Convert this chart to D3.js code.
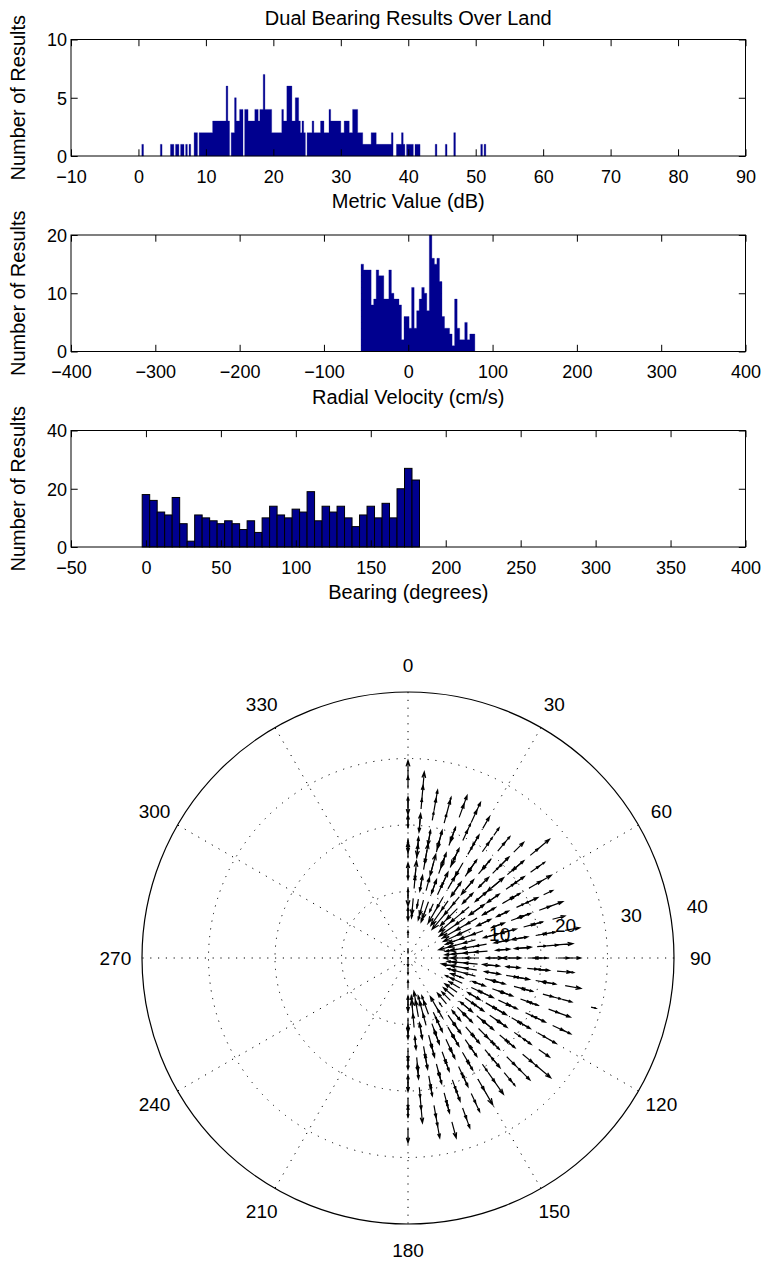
<!DOCTYPE html>
<html>
<head>
<meta charset="utf-8">
<script src="https://cdn.jsdelivr.net/npm/d3@7"></script>
<style>
  html, body { margin: 0; padding: 0; background: #fff; }
  svg { display: block; }
  text { font-family: "Liberation Sans", Arial, Helvetica, sans-serif; fill: #000; }
</style>
</head>
<body>
<svg id="chart" width="762" height="1262"></svg>
<script>
// ---------------- data ----------------
const chartTitle = "Dual Bearing Results Over Land";

// Metric value histogram (0.25 dB bins starting at 0 dB)
const metricBinStart = 0;
const metricBinWidth = 0.25;
const metricCounts = [
  0,0,1,0,0,0,0,0,0,0,  0,0,0,1,0,0,0,0,0,1,
  1,0,1,1,0,1,1,0,1,0,  1,0,0,2,2,0,2,2,2,2,
  2,2,2,2,3,3,3,3,3,3,  3,3,6,3,0,2,2,5,3,3,
  4,4,0,4,4,3,3,3,3,4,  4,3,4,4,7,4,4,4,4,2,
  2,2,2,2,2,4,3,3,6,6,  6,3,3,5,5,3,2,3,2,0,
  2,2,2,3,2,2,2,2,3,3,  2,2,2,4,3,3,3,3,3,3,
  2,2,3,3,3,2,2,4,4,4,  2,2,2,1,1,1,1,1,2,2,
  2,1,1,1,1,1,1,1,1,1,  2,0,0,1,1,1,2,1,0,1,
  1,1,1,0,1,1,1,0,0,0,  0,0,0,0,0,0,1,0,0,0,
  0,0,1,0,0,0,0,2,0,0,  0,0,0,0,0,0,0,0,0,0,
  0,0,0,1,0,1,0,0
];
const metricXTicks = [-10, 0, 10, 20, 30, 40, 50, 60, 70, 80, 90];
const metricYTicks = [0, 5, 10];

// Radial velocity histogram (3 cm/s bins starting at -56 cm/s)
const velBinStart = -56;
const velBinWidth = 3;
const velCounts = [
  15,14,14,14,8, 9,14,13,13,9, 9,14,10,9,9, 8,2,6,6,4,
  11,4,7,9,11, 10,7,20,16,15, 16,12,6,4,4, 3,1,9,4,2,
  2,5,2,3,3
];
const velXTicks = [-400, -300, -200, -100, 0, 100, 200, 300, 400];
const velYTicks = [0, 10, 20];

// Bearing histogram (5 degree bins centred on 0..180)
const bearingCenters = [0,5,10,15,20,25,30,35,40,45,50,55,60,65,70,75,80,85,90,
  95,100,105,110,115,120,125,130,135,140,145,150,155,160,165,170,175,180];
const bearingCounts = [18,16,12,11,17,8,2,11,10,9,8,9,8,6,9,5,10,14,11,10,13,12,
  19,9,14,12,14,10,7,11,14,10,15,10,20,27,23];
const bearingBinWidth = 5;
const bearingXTicks = [-50, 0, 50, 100, 150, 200, 250, 300, 350, 400];
const bearingYTicks = [0, 20, 40];

// Polar vector map: per bearing, range cells (km) and radial velocities (cm/s)
const arrowBearings = bearingCenters;
const arrowRanges = [
  [1.5,3.0,6.0,7.5,9.0,10.5,12.0,13.5,15.0,16.5,18.0,19.5,21.0,22.5,24.0,25.5,27.0],
  [7.5,9.0,10.5,12.0,13.5,15.0,16.5,18.0,19.5,21.0,22.5,24.0,25.5],
  [7.5,9.0,10.5,12.0,13.5,15.0,16.5,18.0,19.5,21.0,22.5,24.0],
  [7.5,9.0,10.5,13.5,15.0,16.5,18.0,19.5,21.0,22.5,24.0],
  [7.5,9.0,10.5,12.0,13.5,15.0,16.5,18.0,19.5,21.0,22.5,24.0],
  [9.0,10.5,12.0,13.5,15.0,16.5,18.0,19.5,21.0,22.5,24.0],
  [9.0,10.5,12.0,13.5,16.5,18.0,19.5,21.0,22.5],
  [9.0,10.5,12.0,13.5,15.0,16.5,18.0,19.5,21.0,22.5],
  [9.0,10.5,12.0,13.5,15.0,16.5,18.0,19.5,21.0,22.5],
  [9.0,10.5,12.0,13.5,15.0,16.5,18.0,19.5,21.0,22.5],
  [9.0,10.5,12.0,13.5,15.0,16.5,18.0,19.5,21.0,22.5,24.0,25.5],
  [9.0,10.5,12.0,13.5,15.0,16.5,18.0,19.5,21.0,22.5,24.0],
  [9.0,10.5,12.0,13.5,15.0,16.5,18.0,19.5,21.0,22.5],
  [9.0,10.5,12.0,13.5,15.0,16.5,18.0,19.5,21.0,22.5],
  [7.5,9.0,10.5,12.0,13.5,15.0,16.5,18.0,19.5,21.0,22.5],
  [7.5,9.0,10.5,12.0,13.5,15.0,16.5,18.0,19.5,21.0,22.5],
  [7.5,9.0,10.5,12.0,13.5,15.0,16.5,18.0,19.5,21.0,22.5,24.0],
  [7.5,9.0,10.5,12.0,13.5,15.0,16.5,18.0,19.5,21.0,22.5],
  [6.0,7.5,9.0,10.5,12.0,13.5,15.0,16.5,18.0,19.5,21.0,22.5,24.0],
  [7.5,9.0,10.5,12.0,13.5,15.0,16.5,18.0,19.5,21.0,22.5,24.0],
  [7.5,9.0,10.5,12.0,13.5,15.0,16.5,18.0,19.5,21.0,22.5,24.0],
  [7.5,9.0,10.5,12.0,13.5,15.0,16.5,18.0,19.5,21.0,22.5,24.0,28.5],
  [7.5,9.0,10.5,12.0,13.5,15.0,16.5,18.0,19.5,21.0,22.5,24.0],
  [7.5,9.0,10.5,12.0,13.5,15.0,16.5,18.0,19.5,21.0,22.5,24.0,25.5],
  [9.0,10.5,12.0,13.5,15.0,16.5,18.0,19.5,21.0,22.5,24.0],
  [9.0,10.5,12.0,13.5,15.0,16.5,18.0,19.5,21.0,22.5,24.0],
  [9.0,10.5,12.0,13.5,15.0,16.5,18.0,19.5,21.0,22.5,24.0,25.5],
  [9.0,10.5,12.0,13.5,15.0,16.5,18.0,19.5,21.0,22.5,24.0],
  [9.0,10.5,12.0,13.5,15.0,16.5,18.0,19.5,21.0,22.5,24.0],
  [9.0,10.5,12.0,13.5,15.0,16.5,18.0,19.5,21.0,22.5],
  [9.0,10.5,12.0,13.5,15.0,16.5,18.0,19.5,21.0,22.5],
  [9.0,10.5,12.0,13.5,15.0,16.5,18.0,19.5,21.0,22.5,24.0],
  [7.5,9.0,10.5,12.0,13.5,15.0,16.5,18.0,19.5,21.0,22.5,24.0,25.5],
  [7.5,9.0,10.5,12.0,13.5,15.0,16.5,18.0,19.5,21.0,22.5,24.0,25.5],
  [7.5,9.0,10.5,12.0,13.5,15.0,16.5,18.0,19.5,21.0,22.5,24.0,25.5],
  [7.5,9.0,10.5,12.0,13.5,15.0,16.5,18.0,19.5,21.0,22.5],
  [0.0,1.5,4.5,6.0,7.5,9.0,10.5,12.0,13.5,15.0,16.5,18.0,19.5,21.0,22.5,24.0,25.5]
];
const arrowVelocities = [
  [-12,18,27,-31,22,-45,38,-27,41,19,-36,33,-22,29,-40,31,45],
  [-24,-42,31,44,-27,36,29,-45,38,-33,26,34,43],
  [14,-20,35,-30,28,41,-33,25,-38,22,31,27],
  [-26,-40,33,44,-36,29,31,-42,24,35,17],
  [-29,-47,34,-28,39,30,-35,27,23,-41,36,33],
  [-22,30,37,-25,32,28,-44,29,21,34,30],
  [-48,-31,35,26,-39,23,31,-27,33],
  [-50,-29,32,-37,28,25,-41,30,19,23],
  [-56,-34,-27,31,-42,27,20,-36,29,22],
  [-35,-39,30,-32,36,-24,21,33,-28,35],
  [-48,-36,-26,33,-30,38,-41,24,29,-33,27,38],
  [-54,-30,34,-38,29,-33,24,31,-26,27,18],
  [-50,-37,-31,27,-34,32,24,-29,36,40],
  [-52,-41,29,-35,28,-30,21,34,-25,25],
  [-25,-45,-38,-30,32,-27,35,27,-33,30,38],
  [-45,-47,-32,36,-29,31,-37,28,24,-30,32],
  [-30,-44,-39,-28,34,-31,30,-36,27,25,-32,37],
  [-32,-41,-36,-33,31,-29,35,-32,23,28,40],
  [-8,-35,-42,-31,37,-28,33,-39,28,24,-34,29,33],
  [-26,-40,-34,30,-37,32,-28,26,31,-24,35,17],
  [-40,-43,-31,35,-30,28,34,-27,30,26,-35,40],
  [-22,-38,-29,32,27,-35,30,23,-31,26,22,25,13],
  [18,-36,31,-28,34,29,-32,25,21,-30,27,33],
  [-21,-33,28,36,-30,32,27,-25,24,30,-28,31,25],
  [-31,34,-27,30,35,-29,26,29,-32,24,28],
  [-37,29,32,-26,37,28,-31,20,27,-23,33],
  [-34,36,-29,31,30,-35,27,25,-30,33,26,42],
  [-30,32,28,-33,34,29,24,-27,31,26,32],
  [-35,30,-28,33,29,-27,21,34,-26,30,17],
  [-12,35,31,-29,28,26,-33,22,30,42],
  [-38,-27,34,30,-31,32,24,-28,33,50],
  [20,29,-32,35,28,-26,26,31,-29,27,25],
  [-24,-36,33,30,-34,31,27,-28,26,32,-25,30,28],
  [-27,-39,-30,35,32,-28,34,26,-31,29,27,-24,42],
  [-40,-43,31,-35,29,33,-30,32,26,-27,31,28,33],
  [-30,-46,-34,30,-28,36,29,-33,26,31,40],
  [22,16,-19,34,-30,37,28,-33,31,29,-26,35,-31,27,24,-29,38]
];
const polarAngleLabels = [0, 30, 60, 90, 120, 150, 180, 210, 240, 270, 300, 330];
const polarRings = [10, 20, 30, 40];
const polarMaxRange = 40;

// ---------------- layout ----------------
const svg = d3.select("#chart");
const navy = "#00008f";
const axLeft = 71, axRight = 745.5, axHeight = 116.5;
const tickLen = 6.7;

svg.append("text")
  .attr("x", (axLeft + axRight) / 2).attr("y", 25)
  .attr("text-anchor", "middle").style("font-size", "20px")
  .text(chartTitle);

function histogramPanel(cfg) {
  const top = cfg.top, bottom = top + axHeight;
  const x = d3.scaleLinear().domain(cfg.xDomain).range([axLeft, axRight]);
  const y = d3.scaleLinear().domain(cfg.yDomain).range([bottom, top]);
  const g = svg.append("g");

  if (cfg.edge) {
    // outlined bars
    g.selectAll("rect.bar").data(cfg.bars.filter(d => d.n > 0)).enter()
      .append("rect").attr("class", "bar")
      .attr("x", d => x(d.x0))
      .attr("width", d => x(d.x1) - x(d.x0))
      .attr("y", d => y(d.n))
      .attr("height", d => y(0) - y(d.n))
      .attr("fill", navy).attr("stroke", "#000").attr("stroke-width", 1);
  } else {
    // narrow bins: one stepped outline per run of non-empty bins
    const runs = [];
    let cur = null;
    cfg.bars.forEach(b => {
      if (b.n > 0) { if (!cur) { cur = []; runs.push(cur); } cur.push(b); }
      else cur = null;
    });
    g.selectAll("path.bar").data(runs).enter().append("path").attr("class", "bar")
      .attr("d", run => {
        let d = `M${x(run[0].x0)},${y(0)}`;
        run.forEach(b => { d += `L${x(b.x0)},${y(b.n)}L${x(b.x1)},${y(b.n)}`; });
        return d + `L${x(run[run.length - 1].x1)},${y(0)}Z`;
      })
      .attr("fill", navy).attr("stroke", navy).attr("stroke-width", 0.3);
  }

  // bottom & top axes with inward ticks
  const xb = d3.axisBottom(x).tickValues(cfg.xTicks).tickSizeInner(-tickLen).tickSizeOuter(0).tickPadding(14);
  const gx = g.append("g").attr("transform", `translate(0,${bottom})`).call(xb);
  const xt = d3.axisTop(x).tickValues(cfg.xTicks).tickSizeInner(-tickLen).tickSizeOuter(0).tickFormat("");
  g.append("g").attr("transform", `translate(0,${top})`).call(xt);
  const yl = d3.axisLeft(y).tickValues(cfg.yTicks).tickSizeInner(-tickLen).tickSizeOuter(0).tickPadding(4);
  const gy = g.append("g").attr("transform", `translate(${axLeft},0)`).call(yl);
  const yr = d3.axisRight(y).tickValues(cfg.yTicks).tickSizeInner(-tickLen).tickSizeOuter(0).tickFormat("");
  g.append("g").attr("transform", `translate(${axRight},0)`).call(yr);

  g.selectAll(".domain").remove();
  g.selectAll(".tick line").attr("stroke", "#000");
  g.selectAll(".tick text").style("font-size", "18px").attr("fill", "#000")
    .style("font-family", '"Liberation Sans", Arial, sans-serif');
  gx.selectAll(".tick text").attr("dy", "0.71em");
  gy.selectAll(".tick text").attr("dy", "0.36em");

  g.append("rect").attr("x", axLeft).attr("y", top)
    .attr("width", axRight - axLeft).attr("height", axHeight)
    .attr("fill", "none").attr("stroke", "#000").attr("stroke-width", 1);

  g.append("text").attr("x", (axLeft + axRight) / 2).attr("y", bottom + 52)
    .attr("text-anchor", "middle").style("font-size", "20px").text(cfg.xLabel);
  g.append("text")
    .attr("transform", `translate(25,${(top + bottom) / 2}) rotate(-90)`)
    .attr("text-anchor", "middle").style("font-size", "20px").text("Number of Results");
}

histogramPanel({
  top: 39.5, xDomain: [-10, 90], yDomain: [0, 10],
  xTicks: metricXTicks, yTicks: metricYTicks, xLabel: "Metric Value (dB)",
  bars: metricCounts.map((n, i) => ({ x0: metricBinStart + i * metricBinWidth, x1: metricBinStart + (i + 1) * metricBinWidth, n }))
});
histogramPanel({
  top: 235, xDomain: [-400, 400], yDomain: [0, 20],
  xTicks: velXTicks, yTicks: velYTicks, xLabel: "Radial Velocity (cm/s)",
  bars: velCounts.map((n, i) => ({ x0: velBinStart + i * velBinWidth, x1: velBinStart + (i + 1) * velBinWidth, n }))
});
histogramPanel({
  top: 430.5, xDomain: [-50, 400], yDomain: [0, 40], edge: true,
  xTicks: bearingXTicks, yTicks: bearingYTicks, xLabel: "Bearing (degrees)",
  bars: bearingCounts.map((n, i) => ({ x0: bearingCenters[i] - bearingBinWidth / 2, x1: bearingCenters[i] + bearingBinWidth / 2, n }))
});

// ---------------- polar vector plot ----------------
const cx = 408, cy = 958, R = 266;
const r = d3.scaleLinear().domain([0, polarMaxRange]).range([0, R]);
const kmPerCmS = 0.06;   // arrow length per unit of radial velocity
const toXY = (bDeg, km) => {
  const a = bDeg * Math.PI / 180;
  return [cx + r(km) * Math.sin(a), cy - r(km) * Math.cos(a)];
};
const pg = svg.append("g");
const dotted = { stroke: "#000", "stroke-width": 1, "stroke-dasharray": "1.2 6.6" };

// spokes every 30 degrees
[0, 30, 60, 90, 120, 150].forEach(b => {
  const p1 = toXY(b, polarMaxRange), p2 = toXY(b + 180, polarMaxRange);
  const l = pg.append("line").attr("x1", p1[0]).attr("y1", p1[1]).attr("x2", p2[0]).attr("y2", p2[1]);
  Object.entries(dotted).forEach(([k, v]) => l.attr(k, v));
});
// range rings
polarRings.forEach(ring => {
  const c = pg.append("circle").attr("cx", cx).attr("cy", cy).attr("r", r(ring)).attr("fill", "none");
  if (ring === polarMaxRange) c.attr("stroke", "#000").attr("stroke-width", 1.2);
  else Object.entries(dotted).forEach(([k, v]) => c.attr(k, v));
});
// ring labels along the 82 degree bearing
const la = 82 * Math.PI / 180;
polarRings.forEach(ring => {
  pg.append("text")
    .attr("x", cx + r(ring) * Math.sin(la) + 25.8)
    .attr("y", cy - r(ring) * Math.cos(la) - 14.4)
    .attr("text-anchor", "middle").attr("dominant-baseline", "central")
    .style("font-size", "19px").text(ring);
});
// bearing labels
polarAngleLabels.forEach(b => {
  const p = toXY(b, polarMaxRange * 1.1);
  pg.append("text").attr("x", p[0]).attr("y", p[1])
    .attr("text-anchor", "middle").attr("dominant-baseline", "central")
    .style("font-size", "19px").text(b);
});

// radial velocity arrows
const arrows = [];
arrowBearings.forEach((b, i) => {
  arrowRanges[i].forEach((km, j) => {
    arrows.push({ b, km, v: arrowVelocities[i][j] });
  });
});
pg.append("g").selectAll("path").data(arrows).enter().append("path")
  .attr("d", d => {
    const p0 = toXY(d.b, d.km), p1 = toXY(d.b, d.km + d.v * kmPerCmS);
    const dx = p1[0] - p0[0], dy = p1[1] - p0[1];
    const len = Math.hypot(dx, dy), ux = dx / len, uy = dy / len;
    const hl = 0.33 * len, hw = 0.33 * 0.33 * len;
    const h1 = [p1[0] - ux * hl - uy * hw, p1[1] - uy * hl + ux * hw];
    const h2 = [p1[0] - ux * hl + uy * hw, p1[1] - uy * hl - ux * hw];
    return `M${p0[0]},${p0[1]}L${p1[0]},${p1[1]}M${h1[0]},${h1[1]}L${p1[0]},${p1[1]}L${h2[0]},${h2[1]}`;
  })
  .attr("fill", "none").attr("stroke", "#000").attr("stroke-width", 1.2);
</script>
</body>
</html>
